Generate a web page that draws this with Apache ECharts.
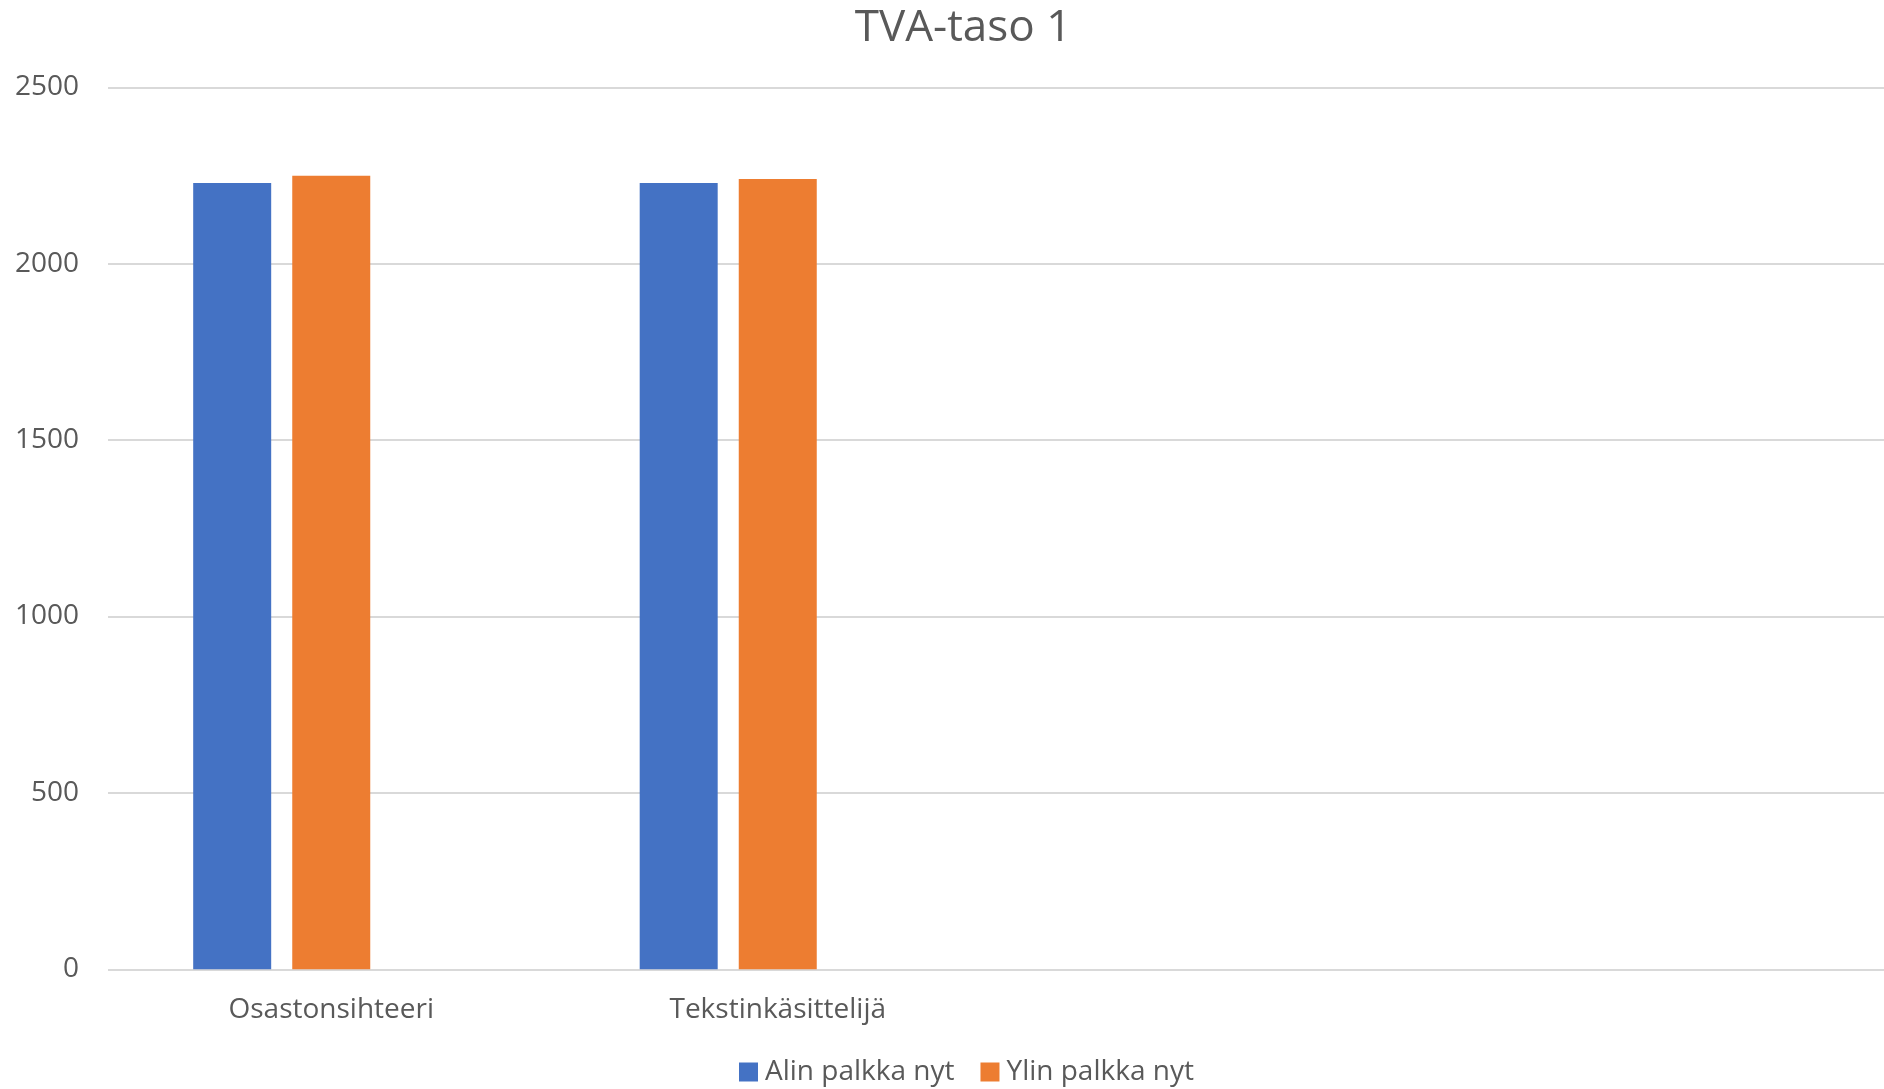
<!DOCTYPE html>
<html>
<head>
<meta charset="utf-8">
<script src="https://cdn.jsdelivr.net/npm/echarts@6/dist/echarts.min.js"></script>
<style>
html,body{margin:0;padding:0;background:#fff;}
#chart{width:1884px;height:1089px;}
</style>
</head>
<body>
<div id="chart"></div>
<script>
const titleText = 'TVA-taso 1';
const categories = ['Osastonsihteeri', 'Tekstinkäsittelijä', '', ''];
const seriesNames = ['Alin palkka nyt', 'Ylin palkka nyt'];
const alinPalkka = [2229, 2229, null, null];
const ylinPalkka = [2249, 2240, null, null];
const emptySeries = [null, null, null, null];
const yTicks = { min: 0, max: 2500, interval: 500 };

const FONT = '"Open Sans", sans-serif';
const TXT = '#595959';

const chart = echarts.init(document.getElementById('chart'), null, { renderer: 'canvas' });
chart.setOption({
  animation: false,
  backgroundColor: '#ffffff',
  title: {
    text: titleText,
    left: 963,
    textAlign: 'center',
    top: 6,
    padding: 0,
    textStyle: { fontFamily: FONT, fontSize: 44, fontWeight: 'normal', color: TXT }
  },
  legend: {
    data: seriesNames,
    left: 739,
    top: 1058,
    padding: 0,
    icon: 'rect',
    itemWidth: 19,
    itemHeight: 19,
    itemGap: 26,
    textStyle: { fontFamily: FONT, fontSize: 28, color: TXT, padding: [0, 0, 0, 2] }
  },
  grid: {
    left: 108,
    right: -10,
    top: 87.3,
    bottom: 119.7,
    containLabel: false,
    outerBoundsMode: 'none'
  },
  xAxis: {
    type: 'category',
    data: categories,
    axisLine: { show: false },
    axisTick: { show: false },
    axisLabel: { fontFamily: FONT, fontSize: 28, color: TXT, margin: 27, interval: 0 }
  },
  yAxis: {
    type: 'value',
    min: yTicks.min,
    max: yTicks.max,
    interval: yTicks.interval,
    axisLine: { show: false },
    axisTick: { show: false },
    axisLabel: { fontFamily: FONT, fontSize: 28, color: TXT, margin: 29, padding: [5, 0, 0, 0], formatter: v => String(v) },
    splitLine: { lineStyle: { color: '#d9d9d9', width: 2 } }
  },
  series: [
    { name: seriesNames[0], type: 'bar', data: alinPalkka, barWidth: 78, barGap: '27%', itemStyle: { color: '#4472c4' } },
    { name: seriesNames[1], type: 'bar', data: ylinPalkka, barWidth: 78, barGap: '27%', itemStyle: { color: '#ed7d31' } },
    { name: '', type: 'bar', data: emptySeries, barWidth: 78, barGap: '27%', itemStyle: { color: '#a5a5a5' } }
  ]
});
</script>
</body>
</html>
